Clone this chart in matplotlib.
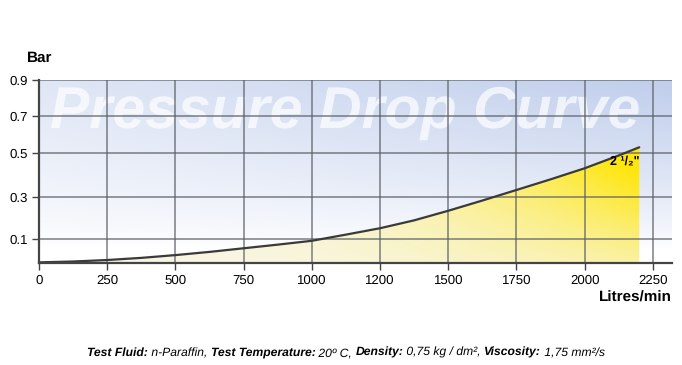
import numpy as np
import matplotlib
matplotlib.use("Agg")
import matplotlib.pyplot as plt
from matplotlib.path import Path
from matplotlib.patches import PathPatch

plt.rcParams['font.family'] = ['Liberation Sans', 'DejaVu Sans']
plt.rcParams['text.hinting'] = 'no_hinting'

# DATA
flow = [0, 125, 250, 375, 500, 625, 750, 875, 1000, 1125, 1250, 1375, 1500,
        1625, 1750, 1875, 2000, 2125, 2200]
pressure = [-0.008, -0.004, 0.003, 0.013, 0.026, 0.041, 0.058, 0.075, 0.093, 0.122,
            0.152, 0.189, 0.234, 0.282, 0.331, 0.380, 0.431, 0.490, 0.532]
x_ticks = [0, 250, 500, 750, 1000, 1250, 1500, 1750, 2000, 2250]
x_tick_labels = ["0", "250", "500", "750", "1000", "1200", "1500", "1750", "2000", "2250"]
y_ticks = [0.1, 0.3, 0.5, 0.7, 0.9]
y_tick_labels = ["0.1", "0.3", "0.5", "0.7", "0.9"]

XMIN, XMAX = 0, 2320
YMIN, YMAX = -0.011, 0.9

# the printed chart has uneven spacing between the y grid lines
scale_vals = [YMIN, 0.1, 0.3, 0.5, 0.7, YMAX]
scale_pos = [0, 23.7, 66.3, 109.7, 147.3, 183]


def fwd(v):
    return np.interp(v, scale_vals, scale_pos)


def inv(s):
    return np.interp(s, scale_pos, scale_vals)


fig = plt.figure(figsize=(6.82, 3.65), dpi=100)
ax = fig.add_axes([39/682, 1-263/365, 633/682, 183/365])

# background gradient: white at bottom-left, light blue towards top-right
ya = np.linspace(1, 0, 200)[:, None]
xa = np.linspace(0, 1, 300)[None, :]
f = np.clip((ya - 0.08) / 0.92, 0, 1) ** 0.75 * (0.5 + 0.5 * xa)
blue = np.array([192, 206, 236]) / 255
bg = 1 - (1 - blue) * f[..., None]
ax.imshow(bg, extent=[0, 1, 0, 1], transform=ax.transAxes, aspect='auto', zorder=0,
          interpolation='bilinear')

# yellow gradient fill under the curve
GY, GX = np.meshgrid(np.linspace(1, 0, 150), np.linspace(0, 1, 300), indexing='ij')
wx = np.clip(GX * XMAX / 2200, 0, 1) ** 2.4
wy = np.clip(GY / 0.6, 0, 1)
w = np.clip(wx * (0.3 + 0.85 * wy), 0, 1)
cream = np.array([248, 246, 230]) / 255
yellow = np.array([255, 230, 10]) / 255
img = cream * (1 - w[..., None]) + yellow * w[..., None]
im = ax.imshow(img, extent=[0, 1, 0, 1], transform=ax.transAxes, aspect='auto', zorder=1,
               interpolation='bilinear')

ax.set_yscale('function', functions=(fwd, inv))
ax.set_xlim(XMIN, XMAX)
ax.set_ylim(YMIN, YMAX)

verts = [(flow[0], YMIN)] + list(zip(flow, pressure)) + [(flow[-1], YMIN), (flow[0], YMIN)]
clip = PathPatch(Path(verts), transform=ax.transData, facecolor='none', edgecolor='none')
ax.add_patch(clip)
im.set_clip_path(clip)

# watermark title
ax.text(0.483, 0.82, "Pressure Drop Curve", transform=ax.transAxes, ha='center', va='center',
        fontsize=42.5, fontweight='bold', fontstyle='italic', color='white', alpha=0.7, zorder=2)

# grid
for xv in x_ticks:
    ax.axvline(xv, color='#5a5e66', lw=1.1, alpha=0.8, zorder=3)
for yv in y_ticks:
    ax.axhline(yv, color='#5a5e66', lw=1.1, alpha=0.8, zorder=3)

# curve
ax.plot(flow, pressure, color='#3a3a3a', lw=1.6, zorder=4, solid_capstyle='round')

ax.text(2092, 0.465, '2 \u00b9/\u2082"', fontsize=9, fontweight='bold', va='center', zorder=5)

ax.set_xticks(x_ticks)
ax.set_xticklabels(x_tick_labels, fontsize=9.5)
ax.set_yticks(y_ticks)
ax.set_yticklabels(y_tick_labels, fontsize=9.5)
ax.minorticks_off()
ax.tick_params(length=5, width=1.0, color='#444444', pad=3)
for side in ['top', 'right']:
    ax.spines[side].set_visible(False)
for side in ['left', 'bottom']:
    ax.spines[side].set_color('#444444')
    ax.spines[side].set_linewidth(1.6)
    ax.spines[side].set_zorder(6)

fig.text(27/682, 1-58/365, "Bar", fontsize=11, fontweight='bold', va='center')
fig.text(672/682, 1-298/365, "Litres/min", fontsize=11, fontweight='bold', va='center', ha='right')

# footer with mixed bold / normal italic pieces
parts = [("Test Fluid:", 'bold'), (" n-Paraffin, ", 'normal'),
         ("Test Temperature:", 'bold'), (" 20º C, ", 'normal'),
         ("Density:", 'bold'), (" 0,75 kg / dm², ", 'normal'),
         ("Viscosity:", 'bold'), (" 1,75 mm²/s", 'normal')]
texts = []
for txt, wt in parts:
    texts.append(fig.text(87/682, 1-356/365, txt, fontsize=8.7, fontstyle='italic',
                          fontweight=wt, family='Liberation Sans', va='baseline'))
fig.canvas.draw()
r = fig.canvas.get_renderer()
x0 = texts[0].get_window_extent(r).x1
for tx in texts[1:]:
    tx.set_x(x0 / fig.bbox.width)
    x0 = tx.get_window_extent(r).x1

fig.savefig("out.png", dpi=100)
